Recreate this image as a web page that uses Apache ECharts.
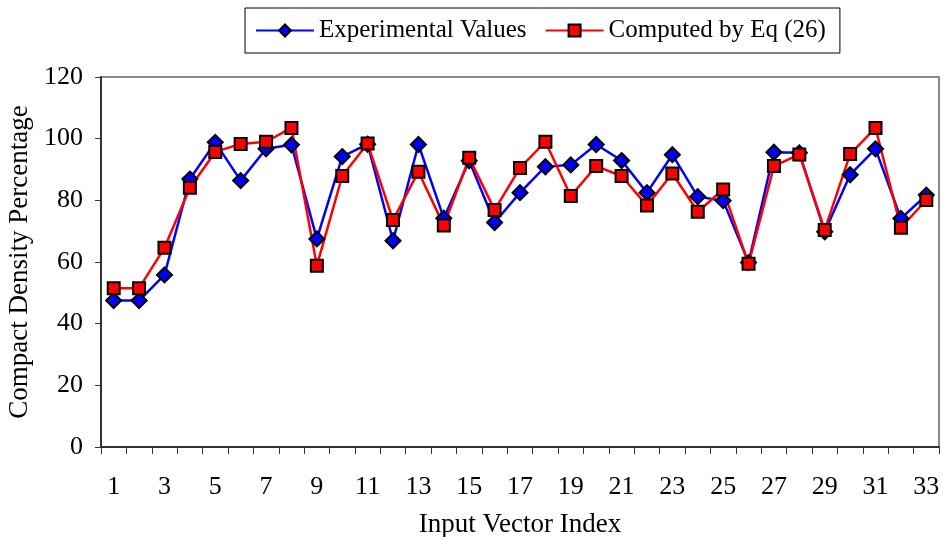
<!DOCTYPE html>
<html lang="en">
<head>
    <meta charset="UTF-8">
    <script src="https://cdn.jsdelivr.net/npm/echarts@6/dist/echarts.min.js"></script>
    <title>Compact Density</title>
</head>
<body style="margin:0;background:#fff;">
<div id="main" style="width: 943px;height:537px;"></div>
<script type="text/javascript">
    // data
    var categories = [];
    for (var i = 1; i <= 33; i++) categories.push(String(i));
    var experimental = [47.5, 47.5, 55.8, 86.9, 98.8, 86.4, 96.7, 98.0, 67.5, 94.2,
        98.2, 66.9, 98.1, 74.2, 92.8, 72.8, 82.5, 90.9, 91.5, 98.1,
        92.9, 82.5, 94.8, 81.2, 79.9, 59.8, 95.6, 95.4, 69.8, 88.3,
        96.7, 74.1, 81.7];
    var computed = [51.5, 51.5, 64.6, 84.1, 95.7, 98.3, 99.0, 103.5, 58.8, 87.9,
        98.4, 73.6, 89.3, 71.8, 93.8, 76.9, 90.5, 99.0, 81.4, 91.1,
        87.9, 78.3, 88.7, 76.3, 83.5, 59.4, 91.1, 94.9, 70.4, 95.0,
        103.5, 71.1, 80.1];

    var font = 'Liberation Serif';
    var chart = echarts.init(document.getElementById('main'));

    var option = {
        animation: false,
        textStyle: {fontFamily: font, color: '#000'},
        legend: {
            top: 8,
            left: 245,
            padding: [10, 14, 10, 10],
            borderColor: '#000',
            borderWidth: 1,
            itemWidth: 58,
            itemHeight: 15,
            itemGap: 18,
            textStyle: {fontFamily: font, fontSize: 25, color: '#000'},
            data: ['Experimental Values', 'Computed by Eq (26)']
        },
        grid: {
            left: 101,
            right: 4,
            top: 77,
            bottom: 90,
            containLabel: false,
            outerBoundsMode: 'none',
            show: true,
            borderColor: '#888',
            borderWidth: 2
        },
        xAxis: {
            type: 'category',
            data: categories,
            boundaryGap: true,
            name: 'Input Vector Index',
            nameLocation: 'middle',
            nameGap: 64,
            nameTextStyle: {fontFamily: font, fontSize: 27, color: '#000'},
            axisLine: {lineStyle: {color: '#333', width: 2}},
            axisTick: {show: true, length: 7, interval: 0, lineStyle: {color: '#333'}},
            axisLabel: {interval: 1, margin: 27, fontFamily: font, fontSize: 26, color: '#000'},
            splitLine: {show: false}
        },
        yAxis: {
            type: 'value',
            min: 0,
            max: 120,
            interval: 20,
            name: 'Compact Density Percentage',
            nameLocation: 'middle',
            nameGap: 65,
            nameTextStyle: {fontFamily: font, fontSize: 27, color: '#000'},
            axisLine: {show: true, lineStyle: {color: '#333', width: 2}},
            axisTick: {show: true, length: 6, lineStyle: {color: '#333'}},
            axisLabel: {margin: 18, fontFamily: font, fontSize: 26, color: '#000'},
            splitLine: {show: false}
        },
        series: [{
            name: 'Experimental Values',
            type: 'line',
            data: experimental,
            symbol: 'diamond',
            symbolSize: 15,
            lineStyle: {color: '#0000ff', width: 2.5},
            itemStyle: {color: '#0000ff', borderColor: '#000', borderWidth: 2}
        }, {
            name: 'Computed by Eq (26)',
            type: 'line',
            data: computed,
            symbol: 'rect',
            symbolSize: 12,
            lineStyle: {color: '#ff0000', width: 2.5},
            itemStyle: {color: '#ff0000', borderColor: '#000', borderWidth: 2}
        }]
    };

    chart.setOption(option);
</script>
</body>
</html>
